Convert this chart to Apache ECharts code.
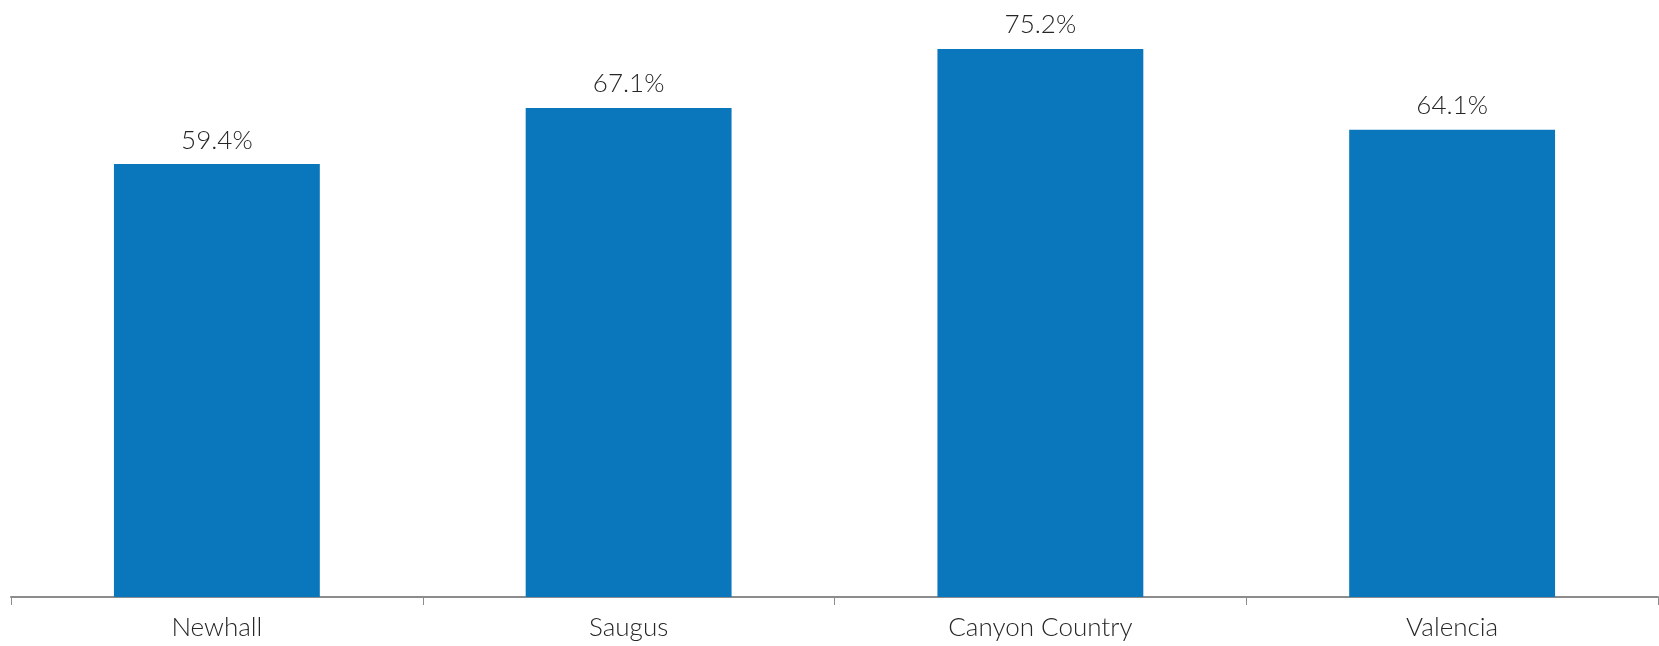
<!DOCTYPE html>
<html><head><meta charset="utf-8">
<script src="https://cdn.jsdelivr.net/npm/echarts@6/dist/echarts.min.js"></script>
<style>html,body{margin:0;padding:0;background:#fff}#c{width:1659px;height:646px}</style>
</head><body><div id="c"></div>
<script>
const categories = ['Newhall', 'Saugus', 'Canyon Country', 'Valencia'];
const values = [59.4, 67.1, 75.2, 64.1];

const chart = echarts.init(document.getElementById('c'), null, {renderer: 'canvas'});
chart.setOption({
  animation: false,
  grid: {left: 11, right: 1, top: 14, bottom: 49, containLabel: false},
  xAxis: {
    type: 'category', data: categories,
    axisLine: {lineStyle: {color: '#8c8c8c', width: 2}},
    axisTick: {show: true, length: 8, lineStyle: {color: '#8c8c8c', width: 1}},
    axisLabel: {color: '#262626', fontSize: 26, fontFamily: 'Lato', fontWeight: 300, margin: 18}
  },
  yAxis: {type: 'value', min: 0, max: 80, show: false, splitLine: {show: false}},
  series: [{
    type: 'bar', data: values, barWidth: '50%',
    itemStyle: {color: '#0a77bd'},
    label: {show: true, position: 'top', distance: 11, color: '#262626', fontSize: 26,
      fontFamily: 'Lato', fontWeight: 300, formatter: p => p.value.toFixed(1) + '%'}
  }]
});
</script></body></html>
